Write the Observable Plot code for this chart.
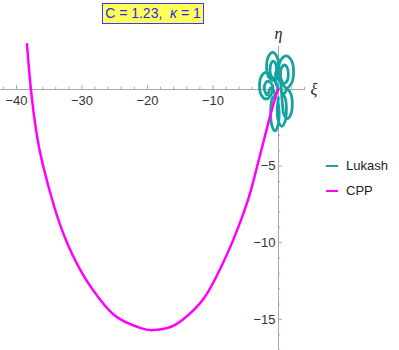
<!DOCTYPE html>
<html>
<head>
<meta charset="utf-8">
<script src="https://cdn.jsdelivr.net/npm/d3@7"></script>
<script src="https://cdn.jsdelivr.net/npm/@observablehq/plot@0.6"></script>
<style>
  body { margin: 0; background: #fff; }
  #wrap { position: relative; width: 399px; height: 350px; font-family: "Liberation Sans", Arial, sans-serif; }
  #title { position: absolute; left: 102px; top: 3px; width: 100px; height: 19px; background: #ffff5a; border: 1px solid #3a3aff; color: #2a2ae6; font-size: 14px; line-height: 19px; text-align: center; white-space: pre; }
  #legend { position: absolute; left: 326px; top: 153px; font-size: 13px; color: #222; }
  .item { display: flex; align-items: center; height: 25px; }
  .sw { width: 12px; height: 2px; margin-right: 8px; }
</style>
</head>
<body>
<div id="wrap">
  <div id="chart"></div>
  <div id="title">C = 1.23,  <i>κ</i> = 1</div>
  <div id="legend"></div>
</div>
<script>
// CPP trajectory (ξ, η)
const cppXi  = [-38.4, -37.8, -37.0, -36.0, -34.2, -32.2, -29.6, -27.1, -24.5, -21.0, -19.2, -16.4, -13.9, -11.3, -8.8, -6.75, -4.7, -3.43, -2.06, -1.15, -0.1];
const cppEta = [2.96, 0.03, -2.69, -4.87, -7.70, -10.08, -12.26, -13.78, -14.9, -15.57, -15.70, -15.48, -14.76, -13.57, -11.61, -9.65, -7.26, -5.30, -3.02, -1.52, 0.03];

// Lukash trajectory (ξ, η) (looping rosette near the origin)
const lukXi  = [0.0, -0.44, 0.02, -0.25, -0.9, -1.55, -1.82, -1.55, -0.9,
  -1.19, -1.9, -2.61, -2.9, -2.61, -1.9, -1.19, -0.9,
  -1.7, -2.2, -1.7, -1.2,
  -0.55, -1.01, -1.2, -1.01, -0.55, -0.09, 0.1, -0.09,
  0.0, -0.2, 0.0, 0.5, 1.0, 1.2, 1.0, 0.5,
  0.82, 1.35, 1.88, 2.1, 1.88, 1.35, 0.82, 0.6,
  0.33, 0.0, 0.33, 1.15, 1.97, 2.3, 1.97, 1.15,
  0.47, 0.3, 0.47, 0.9, 1.33, 1.5, 1.33, 0.9,
  -0.45, -0.3, -0.45, -0.8, -1.15, -1.3, -1.15, -0.8, 0.0];
const lukEta = [0.0, 0.70, 1.5, 2.15, 2.42, 2.15, 1.5, 0.85, 0.58,
  0.87, 1.12, 0.87, 0.25, -0.37, -0.62, -0.37, 0.25,
  0.55, 0.1, -0.35, 0.1,
  -0.3, -0.65, -1.5, -2.35, -2.7, -2.35, -1.5, -0.65,
  -0.52, -1.3, -2.08, -2.4, -2.08, -1.3, -0.52, -0.2,
  -0.28, 0.0, -0.28, -0.95, -1.62, -1.9, -1.62, -0.95,
  0.4, 1.15, 1.9, 2.2, 1.9, 1.15, 0.4, 0.1,
  0.57, 1.0, 1.43, 1.6, 1.43, 1.0, 0.57, 0.4,
  0.91, 1.3, 1.69, 1.85, 1.69, 1.3, 0.91, 0.75, 0.0];

const seriesNames = ["Lukash", "CPP"];
const seriesColors = ["#17a2a2", "#ff00ff"];

const xMajor = [-40, -30, -20, -10];
const xMinor = [-42, -38, -36, -34, -32, -28, -26, -24, -22, -18, -16, -14, -12, -8, -6, -4, -2, 2, 4];
const yMajor = [-15, -10, -5];
const yMinor = [2, 1, -1, -2, -3, -4, -6, -7, -8, -9, -11, -12, -13, -14, -16, -17];

const cpp = cppXi.map((x, i) => ({x, y: cppEta[i]}));
const luk = lukXi.map((x, i) => ({x, y: lukEta[i]}));

const xLo = -42.44, xHi = 4.12, yLo = -17.03, yHi = 2.8;
const fmt = d => String(d).replace("-", "\u2212");
const axisCol = "#a8a8a8";

const chart = Plot.plot({
  width: 399, height: 350,
  marginLeft: 0, marginRight: 94, marginTop: 30, marginBottom: 0,
  x: {domain: [xLo, xHi], axis: null},
  y: {domain: [yLo, 3.85], axis: null},
  style: {fontFamily: "Liberation Sans, Arial, sans-serif", background: "transparent"},
  marks: [
    Plot.ruleY([0], {x1: xLo, x2: xHi, stroke: axisCol, strokeWidth: 1}),
    Plot.ruleX([0], {y1: yLo, y2: yHi, stroke: axisCol, strokeWidth: 1}),
    Plot.ruleX(xMajor, {x: d => d, y1: 0, y2: 0.26, stroke: axisCol}),
    Plot.ruleX(xMinor, {x: d => d, y1: 0, y2: 0.15, stroke: axisCol}),
    Plot.ruleY(yMajor, {y: d => d, x1: 0, x2: 0.6, stroke: axisCol}),
    Plot.ruleY(yMinor, {y: d => d, x1: 0, x2: 0.35, stroke: axisCol}),
    Plot.text(xMajor, {x: d => d, y: 0, text: fmt, dy: 11, fontSize: 13, fill: "#333"}),
    Plot.text(yMajor, {x: 0, y: d => d, text: fmt, dx: -3, textAnchor: "end", fontSize: 13, fill: "#333"}),
    Plot.text(["ξ"], {x: 5.4, y: 0, text: d => d, fontSize: 16, fontStyle: "italic", fontFamily: "Liberation Serif, serif", fill: "#222"}),
    Plot.text(["η"], {x: 0, y: 3.6, text: d => d, fontSize: 16, fontStyle: "italic", fontFamily: "Liberation Serif, serif", fill: "#222"}),
    Plot.line(luk, {x: "x", y: "y", stroke: seriesColors[0], strokeWidth: 2.8, curve: "catmull-rom"}),
    Plot.line(cpp, {x: "x", y: "y", stroke: seriesColors[1], strokeWidth: 2.5, curve: "natural"})
  ]
});
document.getElementById("chart").appendChild(chart);

const legend = document.getElementById("legend");
seriesNames.forEach((n, i) => {
  const it = document.createElement("div");
  it.className = "item";
  it.innerHTML = `<span class="sw" style="background:${seriesColors[i]}"></span><span>${n}</span>`;
  legend.appendChild(it);
});
</script>
</body>
</html>
